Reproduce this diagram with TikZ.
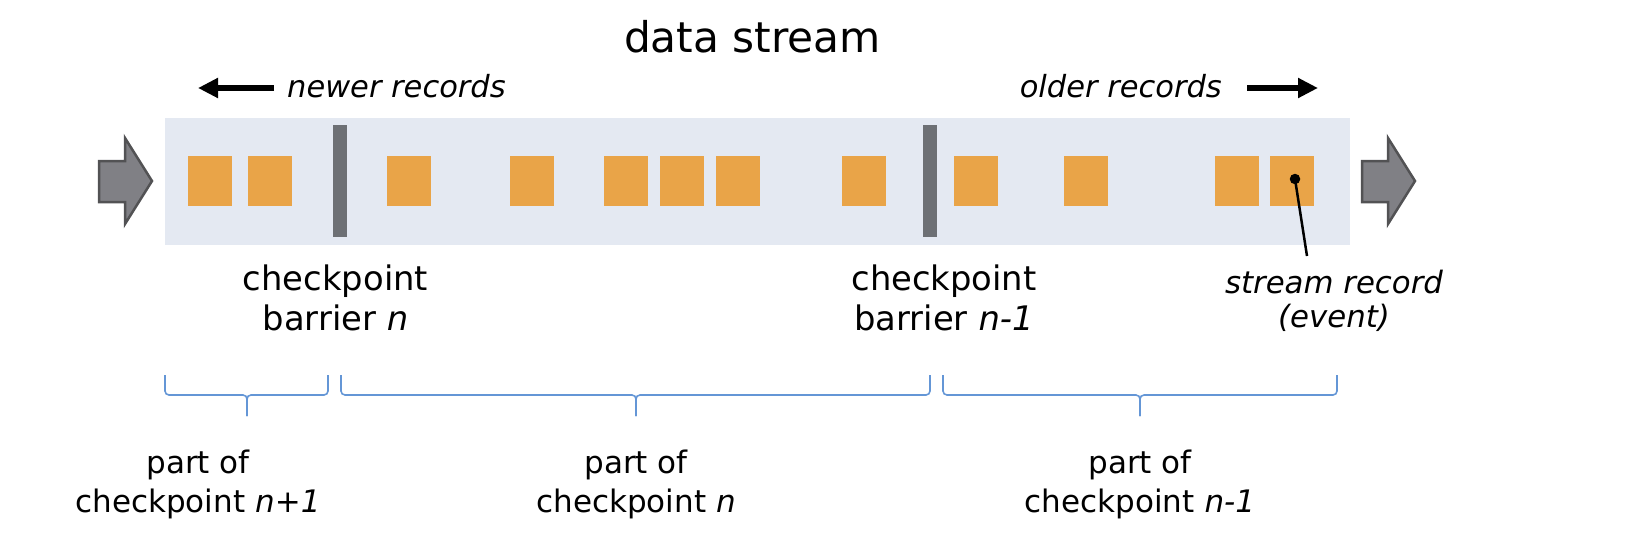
\documentclass[tikz,border=0pt]{standalone}
\usepackage{fontspec}
\setmainfont{DejaVu Sans}
\usepackage{tikz}
\usetikzlibrary{arrows.meta, positioning}
\definecolor{bandblue}{RGB}{228, 233, 242}
\definecolor{recorange}{RGB}{233, 164, 72}
\definecolor{barriergray}{RGB}{109, 112, 117}
\definecolor{arrowgray}{RGB}{128, 128, 133}
\definecolor{arrowedge}{RGB}{82, 82, 84}
\definecolor{braceblue}{RGB}{100, 150, 214}

\begin{document}
\begin{tikzpicture}[x=1pt, y=-1pt,
        record/.style={fill=recorange, minimum width=44pt, minimum height=50pt, inner sep=0pt},
        barrier/.style={fill=barriergray, minimum width=14pt, minimum height=112pt, inner sep=0pt},
        label/.style={align=center, inner sep=0pt, anchor=base, font=\fontsize{33.8}{40}\selectfont},
        partlabel/.style={align=center, inner sep=0pt, anchor=base, font=\fontsize{31}{39}\selectfont},
        dirlabel/.style={inner sep=0pt, font=\fontsize{30.5}{36}\selectfont\itshape},
        dirarrow/.style={line width=5.5pt, -{Triangle[length=20pt, width=19pt]}},
        blockarrow/.style={fill=arrowgray, draw=arrowedge, line width=2.5pt, line join=miter},
        partbrace/.style={draw=braceblue, line width=1.6pt, rounded corners=4pt}]
        \useasboundingbox (0,0) rectangle (1630,536);

        % the stream itself
        \node[fill=bandblue, minimum width=1185pt, minimum height=127pt, inner sep=0pt] (stream) at (757.5,181.5) {};
        \foreach \x [count=\i] in {210, 270, 409, 532, 626, 682, 738, 864, 976, 1086, 1237, 1292}
            \node[record] (r\i) at (\x,181) {};
        \node[barrier] (bn) at (339.5,181) {};
        \node[barrier] (bnm) at (930,181) {};

        % in and out arrows
        \draw[blockarrow] (99,161) -- (125,161) -- (125,138) -- (152,181) -- (125,224) -- (125,202) -- (99,202) -- cycle;
        \draw[blockarrow] (1362,161) -- (1388,161) -- (1388,138) -- (1415,181) -- (1388,224) -- (1388,202) -- (1362,202) -- cycle;

        % title and directions
        \node[inner sep=0pt, anchor=base, font=\fontsize{42.3}{50}\selectfont] (title) at (752.5,52) {data stream};
        \node[dirlabel, anchor=base west] (newer) at (287,97.5) {newer records};
        \node[dirlabel, anchor=base east] (older) at (1222,97.5) {older records};
        \coordinate (newtail) at (274,88);
        \coordinate (newtip) at (198,88);
        \coordinate (oldtail) at (1247,88);
        \coordinate (oldtip) at (1318,88);
        \draw[dirarrow] (newtail) -- (newtip);
        \draw[dirarrow] (oldtail) -- (oldtip);

        % barrier labels (base is the last line)
        \node[label] (bnlabel) at (335.5,330) {checkpoint\\barrier \textit{n}};
        \node[label] (bnmlabel) at (944,330) {checkpoint\\barrier \textit{n-1}};

        % one record marked
        \node[circle, fill=black, minimum size=10.5pt, inner sep=0pt] (dot) at (1295,179) {};
        \coordinate (pin) at (1307,256);
        \draw[line width=2.5pt] (dot.center) -- (pin);
        \node[label, font=\fontsize{30.8}{34}\selectfont\itshape] (reclabel) at (1334,327) {stream record\\(event)};

        % braces over the parts
        \foreach \l/\m/\r in {165/247/328, 341/636/930, 943/1140/1337} {
            \draw[partbrace] (\l,375) -- (\l,395) -- (\m,395) -- (\m,416);
            \draw[partbrace] (\r,375) -- (\r,395) -- (\m,395) -- (\m,416);
        }
        \node[partlabel] (part1) at (198,512) {part of\\checkpoint \textit{n+1}};
        \node[partlabel] (part2) at (636,512) {part of\\checkpoint \textit{n}};
        \node[partlabel] (part3) at (1140,512) {part of\\checkpoint \textit{n-1}};
    \end{tikzpicture}
\end{document}
